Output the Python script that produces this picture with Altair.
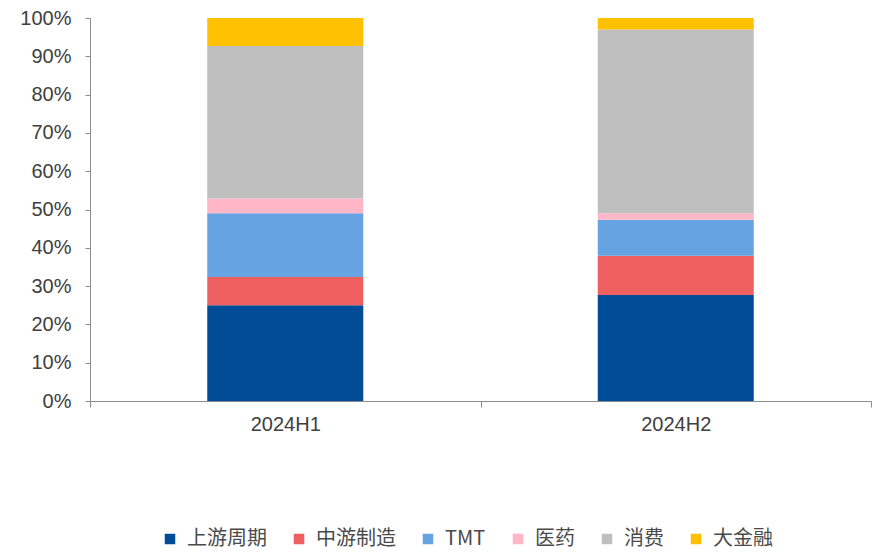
import altair as alt
import pandas as pd

periods = ["2024H1", "2024H2"]
sectors = ["上游周期", "中游制造", "TMT", "医药", "消费", "大金融"]
h1_values = [25.0, 7.4, 16.6, 3.9, 39.8, 7.3]
h2_values = [27.7, 10.2, 9.4, 1.7, 48.0, 3.0]
colors = ["#004C97", "#EF5F5F", "#66A3E3", "#FFB6C6", "#BFBFBF", "#FFC000"]

rows = []
for p, vals in zip(periods, [h1_values, h2_values]):
    for i, (s, v) in enumerate(zip(sectors, vals)):
        rows.append({"period": p, "sector": s, "value": v / 100.0, "idx": i})
df = pd.DataFrame(rows)

LATIN = "Liberation Sans"
CJK = "Noto Sans CJK SC"

chart = (
    alt.Chart(df)
    .mark_bar(size=156)
    .encode(
        x=alt.X(
            "period:N",
            sort=periods,
            title=None,
            scale=alt.Scale(paddingInner=0, paddingOuter=0),
            axis=alt.Axis(
                labelAngle=0,
                labelFontSize=20,
                labelColor="#404040",
                labelFont=LATIN,
                labelPadding=7,
                domainColor="#8C8C8C",
                tickColor="#8C8C8C",
                tickBand="extent",
                tickSize=6,
            ),
        ),
        y=alt.Y(
            "value:Q",
            stack="zero",
            title=None,
            scale=alt.Scale(domain=[0, 1]),
            axis=alt.Axis(
                format=".0%",
                values=[i / 10 for i in range(11)],
                labelFontSize=20,
                labelColor="#404040",
                labelFont=LATIN,
                labelPadding=14,
                domainColor="#8C8C8C",
                tickColor="#8C8C8C",
                tickSize=5,
                grid=False,
            ),
        ),
        color=alt.Color(
            "sector:N",
            sort=sectors,
            scale=alt.Scale(domain=sectors, range=colors),
            legend=alt.Legend(
                title=None,
                orient="none",
                direction="horizontal",
                legendX=70,
                legendY=511,
                padding=0,
                symbolType="square",
                symbolSize=110,
                symbolStrokeWidth=0,
                labelFontSize=20,
                labelFont=CJK,
                labelColor="#4A4A4A",
                columnPadding=22,
                labelOffset=7,
            ),
        ),
        order=alt.Order("idx:Q", sort="ascending"),
    )
    .properties(
        width=781,
        height=383,
        padding={"left": 82, "top": 10, "right": 3, "bottom": 150},
        autosize=alt.AutoSizeParams(type="none"),
    )
    .configure_view(stroke=None)
)

chart.save("out.html", embed_options={"renderer": "svg", "actions": False})
